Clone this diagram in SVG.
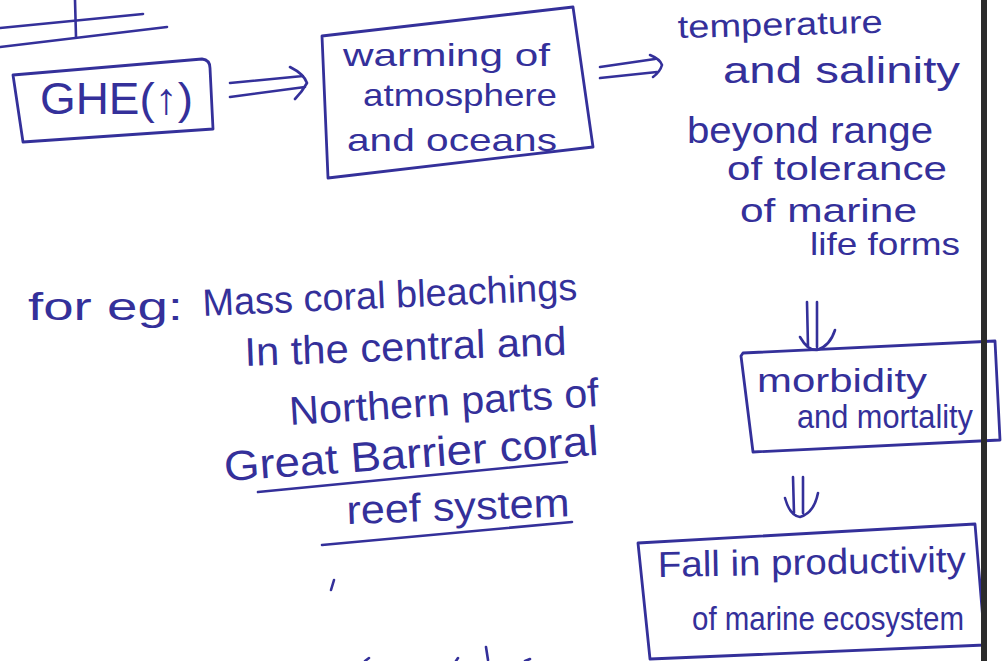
<svg xmlns="http://www.w3.org/2000/svg" width="1004" height="661" viewBox="0 0 1004 661">
  <defs>
    <style>
      .ink { fill: none; stroke: #34309a; stroke-width: 2.6; stroke-linecap: round; stroke-linejoin: round; }
      .box { fill: none; stroke: #34309a; stroke-width: 2.8; stroke-linejoin: round; stroke-linecap: round; }
      .hand { fill: #34309a; font-family: "Liberation Sans", "DejaVu Sans", sans-serif; }
      .arrow { fill: none; stroke: #34309a; stroke-width: 2.6; stroke-linecap: round; stroke-linejoin: round; }
    </style>
  </defs>

  <!-- paper -->
  <rect x="0" y="0" width="1004" height="661" fill="#ffffff"/>

  <!-- ruled strokes at the top-left corner -->
  <g id="top-strokes">
    <path class="ink" d="M0,28 L143,14"/>
    <path class="ink" d="M0,47 L167,27"/>
    <path class="ink" d="M75,0 L76,37"/>
  </g>

  <!-- GHE node -->
  <g id="ghe">
    <path class="box" d="M13,75 L202,59 Q210,60 210,68 L213,129 L23,142 Z"/>
    <text class="hand" x="40" y="114" font-size="44" textLength="153" lengthAdjust="spacingAndGlyphs">GHE(↑)</text>
  </g>

  <!-- warming node -->
  <g id="warming">
    <path class="box" d="M322,36 L573,7 L593,147 L328,178 Z"/>
    <text class="hand" x="343" y="66" font-size="32" textLength="207" lengthAdjust="spacingAndGlyphs">warming of</text>
    <text class="hand" x="363" y="106" font-size="32" textLength="194" lengthAdjust="spacingAndGlyphs">atmosphere</text>
    <text class="hand" x="347" y="151" font-size="32" textLength="210" lengthAdjust="spacingAndGlyphs">and oceans</text>
  </g>

  <!-- temperature / salinity note -->
  <g id="tolerance">
    <text class="hand" x="678" y="38" font-size="32" textLength="205" lengthAdjust="spacingAndGlyphs" transform="rotate(-1.5 678 38)">temperature</text>
    <text class="hand" x="723" y="83" font-size="36" textLength="237" lengthAdjust="spacingAndGlyphs">and salinity</text>
    <text class="hand" x="687" y="143" font-size="36" textLength="246" lengthAdjust="spacingAndGlyphs">beyond range</text>
    <text class="hand" x="727" y="180" font-size="34" textLength="220" lengthAdjust="spacingAndGlyphs">of tolerance</text>
    <text class="hand" x="740" y="222" font-size="34" textLength="177" lengthAdjust="spacingAndGlyphs">of marine</text>
    <text class="hand" x="810" y="255" font-size="32" textLength="150" lengthAdjust="spacingAndGlyphs">life forms</text>
  </g>

  <!-- morbidity node -->
  <g id="morbidity">
    <path class="box" d="M741,356 L743,353 L995,341 L1000,440 L753,452 Z"/>
    <text class="hand" x="757" y="392" font-size="34" textLength="170" lengthAdjust="spacingAndGlyphs">morbidity</text>
    <text class="hand" x="797" y="428" font-size="34" textLength="176" lengthAdjust="spacingAndGlyphs">and mortality</text>
  </g>

  <!-- productivity node -->
  <g id="productivity">
    <path class="box" d="M638,543 L975,524 L985,645 L650,659 Z"/>
    <text class="hand" x="658" y="577" font-size="36" textLength="308" lengthAdjust="spacingAndGlyphs" transform="rotate(-1 658 577)">Fall in productivity</text>
    <text class="hand" x="692" y="630" font-size="34" textLength="272" lengthAdjust="spacingAndGlyphs">of marine ecosystem</text>
  </g>

  <!-- example note -->
  <g id="example">
    <text class="hand" x="28" y="320" font-size="38" textLength="155" lengthAdjust="spacingAndGlyphs">for eg:</text>
    <text class="hand" x="203" y="316" font-size="38" textLength="375" lengthAdjust="spacingAndGlyphs" transform="rotate(-2.5 203 316)">Mass coral bleachings</text>
    <text class="hand" x="245" y="366" font-size="40" textLength="322" lengthAdjust="spacingAndGlyphs" transform="rotate(-2 245 366)">In the central and</text>
    <text class="hand" x="290" y="425" font-size="40" textLength="310" lengthAdjust="spacingAndGlyphs" transform="rotate(-3.5 290 425)">Northern parts of</text>
    <text class="hand" x="225" y="481" font-size="42" textLength="375" lengthAdjust="spacingAndGlyphs" transform="rotate(-4 225 481)">Great Barrier coral</text>
    <path class="ink" d="M258,492 L567,462"/>
    <text class="hand" x="347" y="524" font-size="40" textLength="223" lengthAdjust="spacingAndGlyphs" transform="rotate(-2 347 524)">reef system</text>
    <path class="ink" d="M322,545 L572,522"/>
  </g>

  <!-- connectors -->
  <g id="connectors">
    <!-- GHE to warming -->
    <path class="arrow" d="M230,83 L303,76 M230,97 L305,87 M290,67 Q304,74 307,83 Q302,92 295,99"/>
    <!-- warming to temperature note -->
    <path class="arrow" d="M600,67 L655,59 M600,78 L657,72 M650,55 Q660,59 662,65 Q660,72 653,77"/>
    <!-- note to morbidity -->
    <path class="arrow" d="M807,302 L808,347 M817,302 L817,347 M800,337 Q808,351 817,350 Q830,346 835,330"/>
    <!-- morbidity to productivity -->
    <path class="arrow" d="M793,477 L794,513 M803,477 L803,513 M785,498 Q790,516 800,517 Q814,513 818,493"/>
  </g>

  <!-- stray pen marks and the tops of the next line of writing -->
  <g id="marks">
    <path class="ink" d="M334,580 L331,590" stroke-width="1.5"/>
    <path class="ink" d="M486,647 L488,660" stroke-width="3"/>
    <path class="ink" d="M365,661 L369,658" stroke-width="2"/>
    <path class="ink" d="M456,661 L458,658" stroke-width="2"/>
    <path class="ink" d="M525,661 L530,659" stroke-width="2"/>
  </g>

  <!-- page edge -->
  <rect x="981" y="0" width="6" height="661" fill="#2b2b2b"/>
</svg>
